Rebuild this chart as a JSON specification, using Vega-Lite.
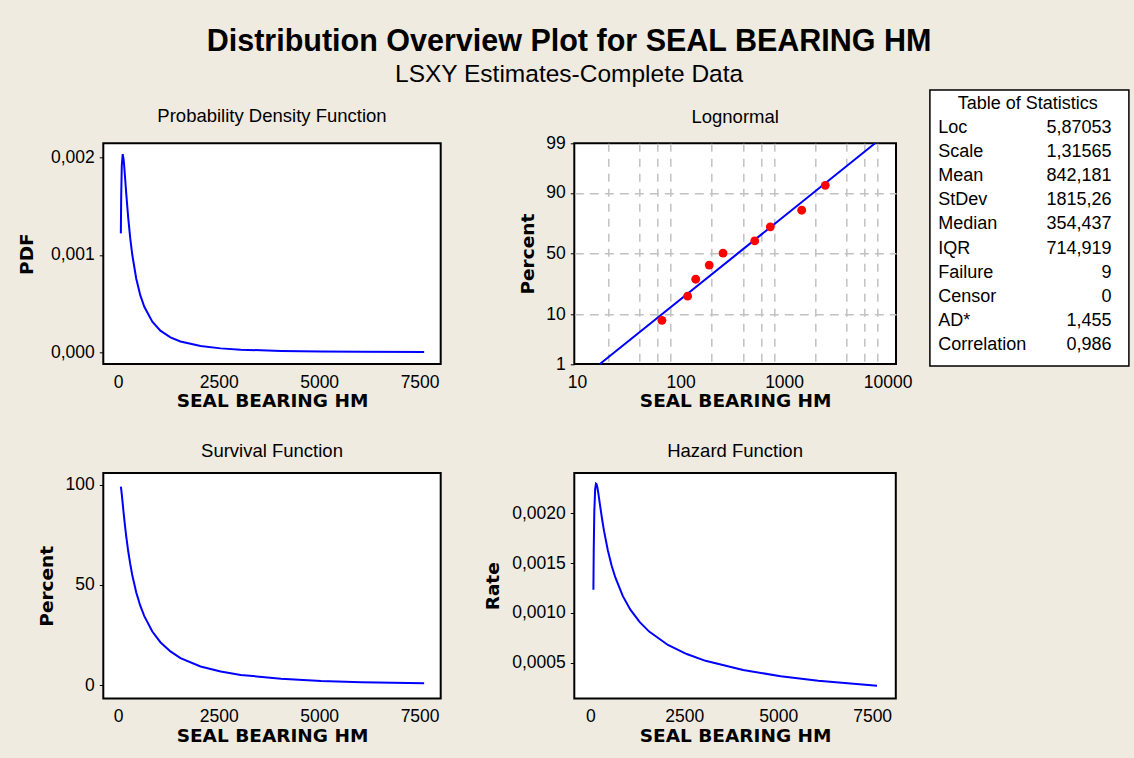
{
  "$schema": "https://vega.github.io/schema/vega-lite/v6.json",
  "autosize": {"type": "none"},
  "padding": {"left": 103.3, "top": 143.3, "right": 1030.7, "bottom": 614.7},
  "background": "#EFEBE1",
  "config": {
    "locale": {"number": {"decimal": ",", "thousands": ".", "grouping": [3], "currency": ["", ""]}},
    "view": {"fill": "white", "stroke": "black", "strokeWidth": 2},
    "axis": {
      "labelFont": "Liberation Sans", "labelFontSize": 17.5, "labelColor": "black",
      "titleFont": "DejaVu Sans", "titleFontSize": 18.5, "titleFontWeight": "bold", "titleColor": "black",
      "domain": false, "grid": false, "tickColor": "black", "labelFlush": false, "labelOverlap": false
    },
    "axisX": {"ticks": false, "tickSize": 0, "labelPadding": 9, "titlePadding": 1},
    "axisY": {"ticks": true, "tickSize": 4, "tickWidth": 1, "labelPadding": 5, "titlePadding": 9}
  },
  "title": {
    "text": "Distribution Overview Plot for SEAL BEARING HM",
    "subtitle": "LSXY Estimates-Complete Data",
    "font": "Liberation Sans", "fontSize": 30.5, "fontWeight": "bold", "color": "black",
    "subtitleFont": "Liberation Sans", "subtitleFontSize": 24.5, "subtitleColor": "black",
    "subtitlePadding": 5, "anchor": "middle", "offset": 3, "dx": -4
  },
  "datasets": {
    "curves": [
      {"hm": 16.6, "pdf": 0.00122, "surv": 99.0, "haz": 0.001232},
      {"hm": 25, "pdf": 0.001592, "surv": 97.8, "haz": 0.001628},
      {"hm": 40, "pdf": 0.001917, "surv": 95.1, "haz": 0.002015},
      {"hm": 63, "pdf": 0.002033, "surv": 90.5, "haz": 0.002245},
      {"hm": 85, "pdf": 0.00198, "surv": 86.1, "haz": 0.0023},
      {"hm": 100, "pdf": 0.001909, "surv": 83.2, "haz": 0.002295},
      {"hm": 120, "pdf": 0.001801, "surv": 79.5, "haz": 0.002266},
      {"hm": 150, "pdf": 0.001633, "surv": 74.3, "haz": 0.002197},
      {"hm": 200, "pdf": 0.001379, "surv": 66.8, "haz": 0.002064},
      {"hm": 250, "pdf": 0.001171, "surv": 60.5, "haz": 0.001937},
      {"hm": 300, "pdf": 0.001003, "surv": 55.0, "haz": 0.001822},
      {"hm": 400, "pdf": 0.000755, "surv": 46.3, "haz": 0.00163},
      {"hm": 500, "pdf": 0.000586, "surv": 39.7, "haz": 0.001477},
      {"hm": 600, "pdf": 0.000467, "surv": 34.5, "haz": 0.001356},
      {"hm": 800, "pdf": 0.000313, "surv": 26.8, "haz": 0.001168},
      {"hm": 1000, "pdf": 0.000222, "surv": 21.5, "haz": 0.001032},
      {"hm": 1250, "pdf": 0.000153, "surv": 16.9, "haz": 0.000907},
      {"hm": 1500, "pdf": 0.000111, "surv": 13.6, "haz": 0.000812},
      {"hm": 2000, "pdf": 0.0000638, "surv": 9.4, "haz": 0.000677},
      {"hm": 2500, "pdf": 0.0000403, "surv": 6.9, "haz": 0.000586},
      {"hm": 3000, "pdf": 0.0000271, "surv": 5.2, "haz": 0.000518},
      {"hm": 4000, "pdf": 0.0000139, "surv": 3.3, "haz": 0.000426},
      {"hm": 5000, "pdf": 0.000008, "surv": 2.2, "haz": 0.000363},
      {"hm": 6000, "pdf": 0.000005, "surv": 1.6, "haz": 0.000317},
      {"hm": 7563, "pdf": 0.0000027, "surv": 1.0, "haz": 0.000268}
    ],
    "fit": [
      {"hm": 16.6, "pct": 1},
      {"hm": 354.4, "pct": 50},
      {"hm": 7563, "pct": 99}
    ],
    "ranks": [
      {"hm": 66, "pct": 8.0},
      {"hm": 117, "pct": 18.5},
      {"hm": 140, "pct": 29.5},
      {"hm": 189, "pct": 40.5},
      {"hm": 257, "pct": 50.5},
      {"hm": 520, "pct": 60.6},
      {"hm": 736, "pct": 71.4},
      {"hm": 1479, "pct": 82.0},
      {"hm": 2500, "pct": 92.5}
    ],
    "stats": [
      {"row": 1, "label": "Loc", "value": "5,87053"},
      {"row": 2, "label": "Scale", "value": "1,31565"},
      {"row": 3, "label": "Mean", "value": "842,181"},
      {"row": 4, "label": "StDev", "value": "1815,26"},
      {"row": 5, "label": "Median", "value": "354,437"},
      {"row": 6, "label": "IQR", "value": "714,919"},
      {"row": 7, "label": "Failure", "value": "9"},
      {"row": 8, "label": "Censor", "value": "0"},
      {"row": 9, "label": "AD*", "value": "1,455"},
      {"row": 10, "label": "Correlation", "value": "0,986"}
    ]
  },
  "columns": 3,
  "spacing": {"row": 108.7, "column": 133},
  "bounds": "flush",
  "concat": [
    {
      "width": 337.4, "height": 220.7,
      "title": {"text": "Probability Density Function", "font": "Liberation Sans", "fontSize": 18.5, "fontWeight": "normal", "color": "black", "anchor": "middle", "offset": 18},
      "data": {"name": "curves"},
      "mark": {"type": "line", "color": "#0000FF", "strokeWidth": 2},
      "encoding": {
        "x": {"field": "hm", "type": "quantitative", "scale": {"domain": [-420, 7975], "nice": false, "zero": false},
              "axis": {"values": [0, 2500, 5000, 7500], "format": "d", "title": "SEAL BEARING HM", "labelOffset": -2}},
        "y": {"field": "pdf", "type": "quantitative", "scale": {"domain": [-0.00012, 0.002144], "nice": false, "zero": false},
              "axis": {"values": [0, 0.001, 0.002], "format": ".3f", "title": "PDF", "titlePadding": 14}}
      }
    },
    {
      "width": 321.7, "height": 220.7,
      "title": {"text": "Lognormal", "font": "Liberation Sans", "fontSize": 18.5, "fontWeight": "normal", "color": "black", "anchor": "middle", "offset": 7.5},
      "layer": [
        {
          "data": {"name": "fit"},
          "transform": [{"calculate": "quantileNormal(datum.pct / 100)", "as": "z"}],
          "mark": {"type": "line", "color": "#0000FF", "strokeWidth": 2},
          "encoding": {
            "x": {"field": "hm", "type": "quantitative",
                  "scale": {"type": "log", "domain": [9.4, 12050], "nice": false},
                  "axis": {
                    "values": [10, 20, 40, 60, 80, 100, 200, 400, 600, 800, 1000, 2000, 4000, 6000, 8000, 10000],
                    "labelExpr": "(datum.value == 10 || datum.value == 100 || datum.value == 1000 || datum.value == 10000) ? format(datum.value, 'd') : ''",
                    "grid": true, "gridColor": "#C2C2C2", "gridWidth": 1.5, "gridDash": [8, 7],
                    "gridOpacity": {"condition": {"test": "datum.value == 10 || datum.value == 100 || datum.value == 1000 || datum.value == 10000", "value": 0}, "value": 1},
                    "title": "SEAL BEARING HM"
                  }},
            "y": {"field": "z", "type": "quantitative",
                  "scale": {"domain": [-2.3263, 2.3263], "nice": false, "zero": false},
                  "axis": {
                    "values": [-2.3263, -1.2816, 0, 1.2816, 2.3263],
                    "labelExpr": "format(round(cumulativeNormal(datum.value) * 100), 'd')",
                    "grid": true, "gridColor": "#C2C2C2", "gridWidth": 1.5, "gridDash": [9, 6],
                    "gridOpacity": {"condition": {"test": "abs(datum.value) > 2", "value": 0}, "value": 1},
                    "title": "Percent", "titlePadding": 8
                  }}
          }
        },
        {
          "data": {"name": "ranks"},
          "transform": [{"calculate": "quantileNormal(datum.pct / 100)", "as": "z"}],
          "mark": {"type": "circle", "color": "#FF0000", "size": 78, "opacity": 1},
          "encoding": {
            "x": {"field": "hm", "type": "quantitative"},
            "y": {"field": "z", "type": "quantitative"}
          }
        }
      ]
    },
    {
      "width": 99.6, "height": 220.7,
      "view": {"stroke": null, "fill": null},
      "layer": [
        {
          "data": {"values": [{}]},
          "mark": {"type": "rect", "fill": "white", "stroke": "black", "strokeWidth": 1.5},
          "encoding": {
            "x": {"datum": 0, "type": "quantitative", "scale": {"domain": [0.4995, 1], "nice": false, "zero": false}, "axis": null},
            "x2": {"datum": 1},
            "y": {"datum": -0.58, "type": "quantitative", "scale": {"domain": [1.631, 10.788], "reverse": true, "nice": false, "zero": false}, "axis": null},
            "y2": {"datum": 10.87}
          }
        },
        {
          "data": {"values": [{"row": 0, "label": "Table of Statistics"}]},
          "mark": {"type": "text", "font": "Liberation Sans", "fontSize": 18, "color": "black", "align": "center", "baseline": "middle"},
          "encoding": {
            "x": {"datum": 0.492, "type": "quantitative"},
            "y": {"field": "row", "type": "quantitative"},
            "text": {"field": "label"}
          }
        },
        {
          "data": {"name": "stats"},
          "mark": {"type": "text", "font": "Liberation Sans", "fontSize": 18, "color": "black", "align": "left", "baseline": "middle"},
          "encoding": {
            "x": {"datum": 0.042, "type": "quantitative"},
            "y": {"field": "row", "type": "quantitative"},
            "text": {"field": "label"}
          }
        },
        {
          "data": {"name": "stats"},
          "mark": {"type": "text", "font": "Liberation Sans", "fontSize": 18, "color": "black", "align": "right", "baseline": "middle"},
          "encoding": {
            "x": {"datum": 0.913, "type": "quantitative"},
            "y": {"field": "row", "type": "quantitative"},
            "text": {"field": "value"}
          }
        }
      ]
    },
    {
      "width": 337.4, "height": 225.6,
      "title": {"text": "Survival Function", "font": "Liberation Sans", "fontSize": 18.5, "fontWeight": "normal", "color": "black", "anchor": "middle", "offset": 12.5},
      "data": {"name": "curves"},
      "mark": {"type": "line", "color": "#0000FF", "strokeWidth": 2},
      "encoding": {
        "x": {"field": "hm", "type": "quantitative", "scale": {"domain": [-420, 7975], "nice": false, "zero": false},
              "axis": {"values": [0, 2500, 5000, 7500], "format": "d", "title": "SEAL BEARING HM", "labelOffset": -2}},
        "y": {"field": "surv", "type": "quantitative", "scale": {"domain": [-6.6, 105.8], "nice": false, "zero": false},
              "axis": {"values": [0, 50, 100], "format": "d", "title": "Percent"}}
      }
    },
    {
      "width": 321.5, "height": 225.6,
      "title": {"text": "Hazard Function", "font": "Liberation Sans", "fontSize": 18.5, "fontWeight": "normal", "color": "black", "anchor": "middle", "offset": 12.5},
      "data": {"name": "curves"},
      "mark": {"type": "line", "color": "#0000FF", "strokeWidth": 2},
      "encoding": {
        "x": {"field": "hm", "type": "quantitative", "scale": {"domain": [-492, 8063], "nice": false, "zero": false},
              "axis": {"values": [0, 2500, 5000, 7500], "format": "d", "title": "SEAL BEARING HM", "labelOffset": -2.5}},
        "y": {"field": "haz", "type": "quantitative", "scale": {"domain": [0.000138, 0.002407], "nice": false, "zero": false},
              "axis": {"values": [0.0005, 0.001, 0.0015, 0.002], "format": ".4f", "title": "Rate"}}
      }
    }
  ]
}
